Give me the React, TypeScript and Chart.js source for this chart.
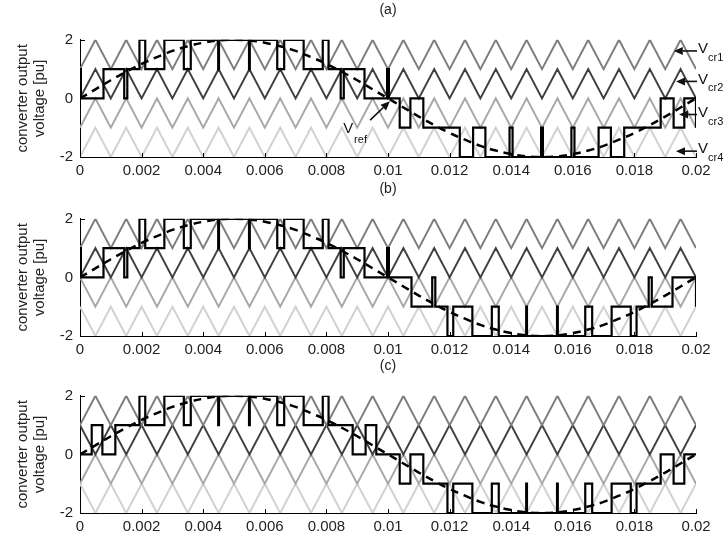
import React, { useEffect, useRef } from 'react';
import { Chart, registerables } from 'chart.js';

Chart.register(...registerables);

// ---------------- data (time in ms, voltage in pu) ----------------
const carrierTimesMs = [0, 0.5, 1, 1.5, 2, 2.5, 3, 3.5, 4, 4.5, 5, 5.5, 6, 6.5, 7, 7.5, 8, 8.5, 9, 9.5, 10, 10.5, 11, 11.5, 12, 12.5, 13, 13.5, 14, 14.5, 15, 15.5, 16, 16.5, 17, 17.5, 18, 18.5, 19, 19.5, 20];
const triUp = [0, 1, 0, 1, 0, 1, 0, 1, 0, 1, 0, 1, 0, 1, 0, 1, 0, 1, 0, 1, 0, 1, 0, 1, 0, 1, 0, 1, 0, 1, 0, 1, 0, 1, 0, 1, 0, 1, 0, 1, 0];
const triDown = [1, 0, 1, 0, 1, 0, 1, 0, 1, 0, 1, 0, 1, 0, 1, 0, 1, 0, 1, 0, 1, 0, 1, 0, 1, 0, 1, 0, 1, 0, 1, 0, 1, 0, 1, 0, 1, 0, 1, 0, 1];
const carrierOffsets = [1, 0, -1, -2];
const carrierShapesA = ['up', 'up', 'up', 'up'];
const carrierShapesB = ['up', 'up', 'down', 'down'];
const carrierShapesC = ['up', 'down', 'up', 'down'];

const vrefTimesMs = carrierTimesMs;
const vrefValues = [0, 0.31, 0.62, 0.91, 1.18, 1.41, 1.62, 1.78, 1.9, 1.98, 2.0, 1.98, 1.9, 1.78, 1.62, 1.41, 1.18, 0.91, 0.62, 0.31, 0, -0.31, -0.62, -0.91, -1.18, -1.41, -1.62, -1.78, -1.9, -1.98, -2.0, -1.98, -1.9, -1.78, -1.62, -1.41, -1.18, -0.91, -0.62, -0.31, 0];

const pwmTimesA = [0, 0.03, 0.763, 1.436, 1.536, 1.93, 2.118, 2.739, 3.371, 3.596, 4.487, 4.512, 5.488, 5.513, 6.404, 6.629, 7.261, 7.882, 8.07, 8.464, 8.564, 9.237, 9.97, 10.03, 10.38, 10.727, 11.147, 12.331, 12.763, 13.162, 13.946, 14.045, 14.97, 15.03, 15.955, 16.054, 16.838, 17.237, 17.669, 18.853, 19.273, 19.62, 20];
const pwmLevelsA = [1, 0, 1, 0, 1, 2, 1, 2, 1, 2, 1, 2, 1, 2, 1, 2, 1, 2, 1, 0, 1, 0, 1, 0, -1, 0, -1, -2, -1, -2, -1, -2, -1, -2, -1, -2, -1, -2, -1, 0, -1, 0, -1];

const pwmTimesB = [0, 0.03, 0.763, 1.436, 1.536, 1.93, 2.118, 2.739, 3.371, 3.596, 4.487, 4.512, 5.488, 5.513, 6.404, 6.629, 7.261, 7.882, 8.07, 8.464, 8.564, 9.237, 9.97, 10.03, 10.763, 11.436, 11.536, 11.93, 12.118, 12.739, 13.371, 13.596, 14.487, 14.512, 15.488, 15.513, 16.404, 16.629, 17.261, 17.882, 18.07, 18.464, 18.564, 19.237, 20];
const pwmLevelsB = [1, 0, 1, 0, 1, 2, 1, 2, 1, 2, 1, 2, 1, 2, 1, 2, 1, 2, 1, 0, 1, 0, 1, 0, -1, 0, -1, -2, -1, -2, -1, -2, -1, -2, -1, -2, -1, -2, -1, -2, -1, 0, -1, 0, -1];

const pwmTimesC = [0, 0.38, 0.727, 1.147, 1.93, 2.118, 2.739, 3.371, 3.596, 4.487, 4.512, 5.488, 5.513, 6.404, 6.629, 7.261, 7.882, 8.07, 8.853, 9.273, 9.62, 10.38, 10.727, 11.147, 11.93, 12.118, 12.739, 13.371, 13.596, 14.487, 14.512, 15.488, 15.513, 16.404, 16.629, 17.261, 17.882, 18.07, 18.853, 19.273, 19.62, 20];
const pwmLevelsC = [0, 1, 0, 1, 2, 1, 2, 1, 2, 1, 2, 1, 2, 1, 2, 1, 2, 1, 0, 1, 0, -1, 0, -1, -2, -1, -2, -1, -2, -1, -2, -1, -2, -1, -2, -1, -2, -1, 0, -1, 0, 0];

const panelTitles = ['(a)', '(b)', '(c)'];
const yAxisTitle = ['converter output', 'voltage [pu]'];
const carrierLabelSubs = ['cr1', 'cr2', 'cr3', 'cr4'];

// annotation anchors (data coordinates, ms / pu)
const carrierLabelLevels = [1.62, 0.58, -0.55, -1.8];
const carrierArrowHeadMs = [19.28, 19.35, 19.45, 19.35];
const vrefArrow = { tailMs: 9.42, tailV: -0.74, headMs: 10.06, headV: -0.1 };
const vrefText = { vMs: 8.55, vV: -1.04, subMs: 8.9, subV: -1.42 };

// ---------------- styling ----------------
const FONT = '"Liberation Sans", Arial, Helvetica, sans-serif';
const TEXT = '#222';
const carrierColors = ['#7e7e7e', '#404040', '#a8a8a8', '#d2d2d2'];
const panelTops = [0, 179, 356];

const panels = [
  { title: panelTitles[0], shapes: carrierShapesA, pwmT: pwmTimesA, pwmL: pwmLevelsA, annotate: true },
  { title: panelTitles[1], shapes: carrierShapesB, pwmT: pwmTimesB, pwmL: pwmLevelsB, annotate: false },
  { title: panelTitles[2], shapes: carrierShapesC, pwmT: pwmTimesC, pwmL: pwmLevelsC, annotate: false },
];

function drawArrow(ctx: CanvasRenderingContext2D, x1: number, y1: number, x2: number, y2: number) {
  const ang = Math.atan2(y2 - y1, x2 - x1);
  const len = 9;
  const hw = 4;
  const bx = x2 - len * Math.cos(ang);
  const by = y2 - len * Math.sin(ang);
  ctx.beginPath();
  ctx.moveTo(x1, y1);
  ctx.lineTo(bx, by);
  ctx.stroke();
  ctx.beginPath();
  ctx.moveTo(x2, y2);
  ctx.lineTo(bx + hw * Math.sin(ang), by - hw * Math.cos(ang));
  ctx.lineTo(bx - hw * Math.sin(ang), by + hw * Math.cos(ang));
  ctx.closePath();
  ctx.fill();
}

const inwardTicks = {
  id: 'inwardTicks',
  afterDatasetsDraw(chart: any) {
    const { ctx, chartArea, scales } = chart;
    ctx.save();
    ctx.strokeStyle = '#000';
    ctx.lineWidth = 1;
    ctx.beginPath();
    scales.x.ticks.forEach((t: any) => {
      const px = Math.round(scales.x.getPixelForValue(t.value)) + 0.5;
      ctx.moveTo(px, chartArea.bottom);
      ctx.lineTo(px, chartArea.bottom - 4);
    });
    scales.y.ticks.forEach((t: any) => {
      const py = Math.round(scales.y.getPixelForValue(t.value)) + 0.5;
      ctx.moveTo(chartArea.left, py);
      ctx.lineTo(chartArea.left + 5, py);
    });
    ctx.stroke();
    ctx.restore();
  },
};

const annotations = {
  id: 'annotations',
  afterDraw(chart: any) {
    const { ctx, chartArea, scales } = chart;
    const { x, y } = scales;
    ctx.save();
    ctx.fillStyle = '#111';
    ctx.strokeStyle = '#111';
    ctx.lineWidth = 1.6;
    ctx.textAlign = 'left';
    ctx.textBaseline = 'middle';
    carrierLabelLevels.forEach((lv, i) => {
      const py = y.getPixelForValue(lv);
      const tailX = chartArea.right + 1;
      const headX = x.getPixelForValue(carrierArrowHeadMs[i] / 1000);
      drawArrow(ctx, tailX, py, headX, py);
      ctx.font = `15px ${FONT}`;
      ctx.fillText('V', tailX + 1, py - 2);
      ctx.font = `11px ${FONT}`;
      ctx.fillText(carrierLabelSubs[i], tailX + 11, py + 7);
    });
    drawArrow(
      ctx,
      x.getPixelForValue(vrefArrow.tailMs / 1000),
      y.getPixelForValue(vrefArrow.tailV),
      x.getPixelForValue(vrefArrow.headMs / 1000),
      y.getPixelForValue(vrefArrow.headV)
    );
    ctx.font = `15px ${FONT}`;
    ctx.fillText('V', x.getPixelForValue(vrefText.vMs / 1000), y.getPixelForValue(vrefText.vV));
    ctx.font = `11px ${FONT}`;
    ctx.fillText('ref', x.getPixelForValue(vrefText.subMs / 1000), y.getPixelForValue(vrefText.subV));
    ctx.restore();
  },
};

function buildConfig(panel: any): any {
  const datasets: any[] = [];
  for (let k = 0; k < 4; k++) {
    const shape = panel.shapes[k] === 'up' ? triUp : triDown;
    datasets.push({
      data: carrierTimesMs.map((t, j) => ({ x: t / 1000, y: carrierOffsets[k] + shape[j] })),
      borderColor: carrierColors[k],
      borderWidth: 2,
      pointRadius: 0,
      tension: 0,
      fill: false,
      order: 3,
    });
  }
  datasets.push({
    data: panel.pwmT.map((t: number, j: number) => ({ x: t / 1000, y: panel.pwmL[j] })),
    borderColor: '#000',
    borderWidth: 2.2,
    pointRadius: 0,
    stepped: true,
    fill: false,
    order: 2,
  });
  datasets.push({
    data: vrefTimesMs.map((t, j) => ({ x: t / 1000, y: vrefValues[j] })),
    borderColor: '#000',
    borderWidth: 2.5,
    borderDash: [8, 6],
    pointRadius: 0,
    tension: 0.4,
    fill: false,
    order: 1,
  });

  return {
    type: 'line',
    data: { datasets },
    plugins: panel.annotate ? [inwardTicks, annotations] : [inwardTicks],
    options: {
      animation: false,
      responsive: false,
      maintainAspectRatio: false,
      events: [],
      layout: { padding: { left: 0, right: 32, top: 0, bottom: 0 } },
      plugins: {
        legend: { display: false },
        tooltip: { enabled: false },
        title: {
          display: true,
          text: panel.title,
          fullSize: false,
          color: TEXT,
          font: { family: FONT, size: 14, weight: 'normal', lineHeight: 1.2 },
          padding: { top: 2, bottom: 21 },
        },
      },
      scales: {
        x: {
          type: 'linear',
          min: 0,
          max: 0.02,
          grid: { display: false, drawTicks: false },
          border: { display: true, color: '#000', width: 1 },
          ticks: {
            stepSize: 0.002,
            autoSkip: false,
            maxRotation: 0,
            padding: 5,
            color: TEXT,
            font: { family: FONT, size: 15 },
            callback: (v: any) => String(Number(Number(v).toFixed(3))),
          },
          afterFit: (s: any) => {
            s.height = 23;
          },
        },
        y: {
          type: 'linear',
          min: -2,
          max: 2,
          grid: { display: false, drawTicks: false },
          border: { display: true, color: '#000', width: 1 },
          ticks: {
            stepSize: 2,
            padding: 7,
            color: TEXT,
            font: { family: FONT, size: 15 },
            callback: (v: any) => String(v),
          },
          title: {
            display: true,
            text: yAxisTitle,
            color: TEXT,
            font: { family: FONT, size: 15, lineHeight: 1.15 },
            padding: { top: 14, bottom: 0 },
          },
          afterFit: (s: any) => {
            s.width = 80;
          },
        },
      },
    },
  };
}

export default function App() {
  const r0 = useRef<HTMLCanvasElement | null>(null);
  const r1 = useRef<HTMLCanvasElement | null>(null);
  const r2 = useRef<HTMLCanvasElement | null>(null);
  const refs = [r0, r1, r2];

  useEffect(() => {
    const charts = panels.map((p, i) => new Chart(refs[i].current as HTMLCanvasElement, buildConfig(p)));
    return () => charts.forEach((c) => c.destroy());
  }, []);

  return (
    <div style={{ position: 'fixed', left: 0, top: 0, width: 728, height: 536, background: '#fff', overflow: 'hidden' }}>
      {panels.map((p, i) => (
        <canvas
          key={i}
          ref={refs[i]}
          width={728}
          height={180}
          style={{ position: 'absolute', left: 0, top: panelTops[i], width: 728, height: 180 }}
        />
      ))}
    </div>
  );
}
